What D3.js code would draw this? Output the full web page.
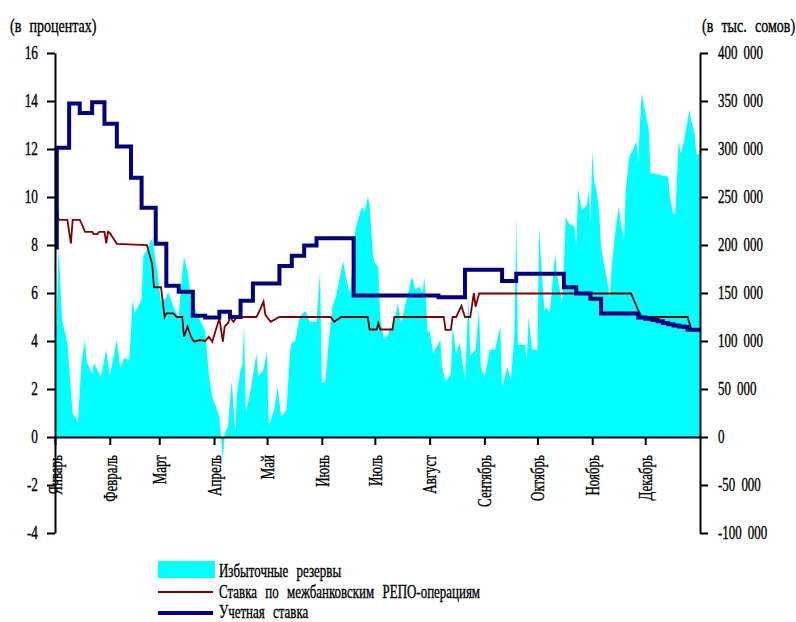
<!DOCTYPE html>
<html>
<head>
<meta charset="utf-8">
<script src="https://cdn.jsdelivr.net/npm/d3@7"></script>
<style>
  body { margin: 0; background: #fff; }
  text { font-family: "Liberation Serif", "Times New Roman", serif; fill: #000; stroke: #000; stroke-width: 0.35px; }
</style>
</head>
<body>
<svg id="chart" width="796" height="622"></svg>
<script>
// month labels for the x axis (month starts)
const months = ["Январь", "Февраль", "Март", "Апрель", "Май", "Июнь",
                "Июль", "Август", "Сентябрь", "Октябрь", "Ноябрь", "Декабрь"];
const leftTicks = [-4, -2, 0, 2, 4, 6, 8, 10, 12, 14, 16];
const rightTicks = [-100000, -50000, 0, 50000, 100000, 150000, 200000, 250000, 300000, 350000, 400000];

// excess reserves, thousand som (day of year -> value)
const reserveDays = [0,2,4,7,10,13,15,17,18,21, 22,24,26,29,31,35,37,39,42,44,
  45,49,50,52,55,58,60,63,64,67, 70,71,73,75,77,80,83,85,87,89,
  91,93,94,95,96,98,99,100,102,103, 105,106,107,108,111,114,115,118,120,121,
  124,126,128,131,133,134,136,138,140,142, 144,148,150,151,153,155,157,159,163,166,
  167,170,173,174,175,177,178,180,181,183, 184,186,188,190,191,194,196,198,202,204,
  206,208,209,211,212,214,218,219,221,224, 225,227,229,232,234,235,238,240,241,243,
  245,246,249,252,253,256,258,260,261,262, 266,267,268,270,273,274,275,277,278,280,
  281,283,284,286,287,288,289,291,294,295, 296,298,301,302,303,304,305,307,308,309,
  311,313,314,315,317,319,320,322,323,325, 327,329,330,331,332,333,336,337,347,348,
  350,351,353,354,356,359,360,362,363,365];
const reserveValues = [61000,198000,122000,98000,25000,15000,78000,101000,78000,66000,
  77000,70000,63000,91000,63000,101000,72000,82000,80000,144000,
  129000,143000,188000,195000,207000,172000,141000,145000,151000,136000,
  124000,151000,188000,172000,146000,130000,118000,111000,66000,42000,
  32000,21000,0,-24000,4000,11000,38000,58000,7000,45000,
  70000,75000,115000,25000,52000,87000,63000,70000,89000,11000,
  28000,52000,21000,28000,89000,98000,100000,122000,129000,131000,
  120000,120000,172000,56000,58000,101000,136000,146000,183000,155000,
  150000,216000,236000,240000,233000,250000,243000,188000,181000,177000,
  125000,103000,105000,115000,111000,139000,118000,136000,167000,153000,
  157000,150000,167000,108000,111000,87000,101000,73000,58000,65000,
  115000,87000,98000,59000,146000,85000,91000,132000,73000,63000,
  80000,91000,91000,115000,52000,73000,59000,108000,229000,96000,
  96000,78000,125000,91000,91000,219000,184000,132000,135000,129000,
  150000,191000,170000,150000,139000,181000,229000,222000,219000,198000,
  259000,236000,242000,257000,221000,297000,268000,250000,233000,198000,
  177000,157000,144000,177000,212000,240000,226000,205000,257000,292000,
  299000,308000,285000,327000,358000,348000,320000,275000,271000,250000,
  231000,233000,309000,295000,308000,341000,330000,316000,294000,295000];

// interbank REPO rate, percent
const repoDays = [0,1,2,7,9,10,14,15,17,21,22,24,25,28,29,30,31,35,52,55,56,60,62,63,67,69,72,
  73,75,77,78,79,82,85,87,89,91,93,95,96,98,99,101,103,114,116,118,119,120,122,127,
  156,158,161,162,177,178,182,183,184,191,192,220,221,224,225,227,230,232,235,237,238,240,
  326,330,332,358,360,365];
const repoValues = [9.45,9.55,9.05,9.05,8.07,9.05,9.05,8.9,8.55,8.55,8.45,8.45,8.55,8.55,8.07,8.55,8.5,8.05,8.0,7.2,6.24,6.24,5.0,5.15,5.15,5.0,5.0,
  4.18,4.6,4.18,4.04,3.97,4.04,4.0,4.18,3.97,4.46,4.94,3.97,4.6,4.75,5.0,4.8,5.0,5.0,5.3,5.64,5.1,5.0,4.8,5.0,
  5.0,4.8,4.95,5.0,5.0,4.48,4.48,4.74,4.48,4.48,5.0,5.0,4.46,4.46,5.0,5.0,5.46,5.0,5.0,5.99,5.43,5.98,
  5.98,5.29,5.0,5.0,4.5,4.5];

// discount rate, percent (value holds from the given day)
const rateDays = [0,1,8,14,21,28,35,43,49,57,63,70,78,85,93,99,105,112,127,134,141,148,169,217,232,253,261,
  288,295,303,309,330,334,338,341,344,347,350,353,356,358,365];
const rateValues = [7.9,12.05,13.9,13.5,13.95,13.05,12.1,10.8,9.55,8.05,6.3,6.05,5.05,4.98,5.22,5.0,5.68,6.4,7.13,7.55,7.98,8.28,5.9,5.82,6.97,6.5,6.8,
  6.24,5.98,5.76,5.15,4.98,4.93,4.87,4.82,4.75,4.7,4.65,4.6,4.58,4.47,4.47];

const day = d => new Date(2002, 0, 1 + d);
const reserves = reserveDays.map((d, i) => ({date: day(d), v: reserveValues[i]}));
const repo = repoDays.map((d, i) => ({date: day(d), v: repoValues[i]}));
const rate = rateDays.map((d, i) => ({date: day(d), v: rateValues[i]}));

const svg = d3.select("#chart");
const x = d3.scaleTime().domain([day(0), day(365)]).range([55, 700]);
const yL = d3.scaleLinear().domain([-4, 16]).range([533, 53]);
const yR = d3.scaleLinear().domain([-100000, 400000]).range([533, 53]);

// narrow the serif glyphs horizontally, like the condensed face of the original
function squeeze(sel, sx) {
  sel.each(function() {
    const t = d3.select(this);
    const tx = +t.attr("x") || 0, ty = +t.attr("y") || 0;
    t.attr("x", 0).attr("y", 0)
      .attr("transform", `translate(${tx},${ty}) scale(${sx},1)`);
  });
}

// area of excess reserves
svg.append("path")
  .datum(reserves)
  .attr("fill", "#00ffff")
  .attr("d", d3.area().x(d => x(d.date)).y0(yR(0)).y1(d => yR(d.v)));

// REPO rate
svg.append("path")
  .datum(repo)
  .attr("fill", "none")
  .attr("stroke", "#800000")
  .attr("stroke-width", 1.8)
  .attr("d", d3.line().x(d => x(d.date)).y(d => yL(d.v)));

// discount rate
svg.append("path")
  .datum(rate)
  .attr("fill", "none")
  .attr("stroke", "#000080")
  .attr("stroke-width", 4)
  .attr("d", d3.line().curve(d3.curveStepAfter).x(d => x(d.date)).y(d => yL(d.v)));

// axes
const gL = svg.append("g")
  .attr("transform", "translate(55,0)")
  .call(d3.axisLeft(yL).tickValues(leftTicks).tickSize(8).tickPadding(9).tickSizeOuter(0));
const gR = svg.append("g")
  .attr("transform", "translate(700,0)")
  .call(d3.axisRight(yR).tickValues(rightTicks).tickSize(8).tickPadding(10).tickSizeOuter(0)
    .tickFormat(d => d3.format(",")(d).replace(/,/g, " ").replace("−", "-")));
gL.selectAll(".tick text").text(d => String(d));

const gX = svg.append("g")
  .attr("transform", `translate(0,${yL(0)})`)
  .call(d3.axisBottom(x).tickValues(d3.range(12).map(m => new Date(2002, m, 1)))
    .tickSize(8).tickSizeOuter(0).tickFormat((d, i) => months[i]));

[gL, gR, gX].forEach(g => {
  g.select(".domain").attr("stroke", "#000").attr("stroke-width", 2);
  g.selectAll(".tick line").attr("stroke", "#000").attr("stroke-width", 2);
  g.selectAll("text").attr("font-family", null).style("font-size", "18px").attr("fill", "#000");
});
squeeze(gL.selectAll(".tick text"), 0.74);
squeeze(gR.selectAll(".tick text"), 0.72);
gR.selectAll(".tick text").style("word-spacing", "4px");

gX.selectAll(".tick text")
  .attr("x", 0).attr("y", 0).attr("dy", "0.35em")
  .style("text-anchor", "end")
  .attr("transform", "translate(0,18) rotate(-90) scale(0.72,1)");

// unit labels
const unitL = svg.append("text").attr("x", 10).attr("y", 32).style("font-size", "18px")
  .style("word-spacing", "6px").text("(в процентах)");
const unitR = svg.append("text").attr("x", 702).attr("y", 32).style("font-size", "18px")
  .style("word-spacing", "6px").text("(в тыс. сомов)");
squeeze(unitL, 0.78);
squeeze(unitR, 0.78);

// legend
const legend = svg.append("g");
legend.append("rect").attr("x", 158).attr("y", 561).attr("width", 57).attr("height", 17).attr("fill", "#00ffff");
legend.append("line").attr("x1", 158).attr("x2", 213).attr("y1", 592).attr("y2", 592)
  .attr("stroke", "#800000").attr("stroke-width", 1.8);
legend.append("line").attr("x1", 158).attr("x2", 213).attr("y1", 613).attr("y2", 613)
  .attr("stroke", "#000080").attr("stroke-width", 4);
const legendNames = ["Избыточные резервы", "Ставка по межбанковским РЕПО-операциям", "Учетная ставка"];
const lt = legend.selectAll("text.lg").data(legendNames).join("text")
  .attr("class", "lg")
  .attr("x", 219).attr("y", (d, i) => 577 + i * 20.5)
  .style("font-size", "18px").style("word-spacing", "7px")
  .text(d => d);
squeeze(lt, 0.72);
</script>
</body>
</html>
